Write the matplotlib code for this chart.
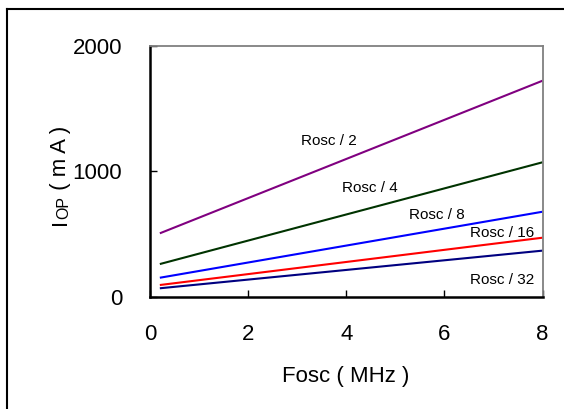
import matplotlib
matplotlib.use("Agg")
import matplotlib.pyplot as plt
from matplotlib.lines import Line2D

plt.rcParams['font.family'] = ['Liberation Sans', 'DejaVu Sans']

# Fosc (MHz) at the two ends of each line
fosc = [0.2, 8.0]

# Iop (mA) for each divider setting
rosc_2 = [505, 1721]
rosc_4 = [260, 1071]
rosc_8 = [151, 677]
rosc_16 = [93, 470]
rosc_32 = [67, 367]

series = [rosc_2, rosc_4, rosc_8, rosc_16, rosc_32]
names = ["Rosc / 2", "Rosc / 4", "Rosc / 8", "Rosc / 16", "Rosc / 32"]
colors = ["#800080", "#003300", "#0000ff", "#ff0000", "#000080"]
# where each label sits (data coords, left / baseline)
label_pos = [(3.07, 1209), (3.92, 837), (5.28, 619), (6.52, 478), (6.52, 101)]

x_ticks = [0, 2, 4, 6, 8]
y_ticks = [0, 1000, 2000]

fig = plt.figure(figsize=(5.64, 4.09), dpi=100)
ax = fig.add_axes([0.266, 0.2746, 0.696, 0.6137])

for vals, name, c, (lx, ly) in zip(series, names, colors, label_pos):
    ax.plot(fosc, vals, color=c, lw=1.5, solid_capstyle='butt')
    ax.text(lx, ly, name, fontsize=11, ha='left', va='baseline')

ax.set_xlim(0, 8)
ax.set_ylim(0, 2000)
ax.set_xticks(x_ticks)
ax.set_yticks(y_ticks)
ax.tick_params(direction='in', length=5, width=1, labelsize=16, pad=20)

for side in ['left', 'bottom']:
    ax.spines[side].set_color('black')
    ax.spines[side].set_linewidth(1.8)
for side in ['top', 'right']:
    ax.spines[side].set_color('#808080')
    ax.spines[side].set_linewidth(1.3)

# x label
fig.text(346 / 564, 1 - 381.7 / 409, "Fosc ( MHz )", fontsize=16,
         ha='center', va='baseline')

# y label built from pieces so the subscript stays on the baseline
t1 = fig.text(71 / 564, 1 - 225 / 409, "I", rotation=90, fontsize=16,
              ha='right', va='bottom')
t2 = ax.annotate("OP", xy=(1, 1), xycoords=t1, rotation=90, fontsize=11.5,
                 ha='right', va='bottom', annotation_clip=False)
t3 = ax.annotate(" ( m A )", xy=(1, 1), xycoords=t2, rotation=90, fontsize=16,
                 ha='right', va='bottom', annotation_clip=False)

# outer frame (only top and left edges show)
fig.add_artist(Line2D([7 / 564, 7 / 564], [0, 1 - 9 / 409], color='black', lw=1.5))
fig.add_artist(Line2D([7 / 564, 1], [1 - 9 / 409, 1 - 9 / 409], color='black', lw=1.5))

fig.savefig("out.png", dpi=100)
